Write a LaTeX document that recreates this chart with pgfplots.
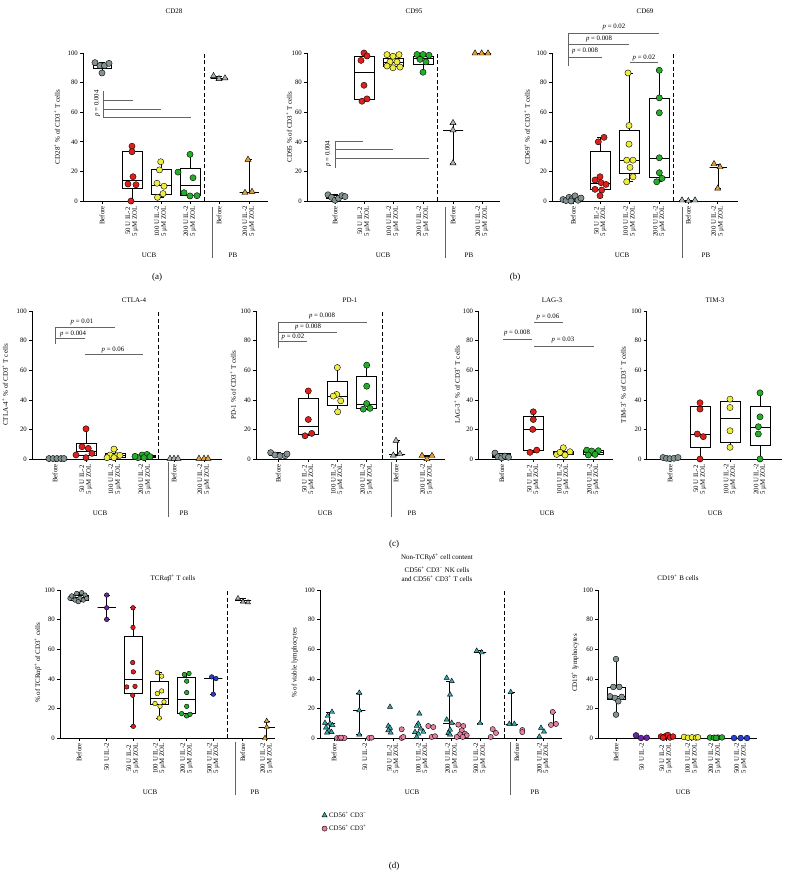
\documentclass[border=0pt]{standalone}
\usepackage{fontspec}
\setmainfont{Liberation Serif}
\usepackage{pgfplots}
\pgfplotsset{compat=1.18}
\usepgfplotslibrary{statistics}
\definecolor{cgray}{RGB}{132,146,146}
\definecolor{cgrayt}{RGB}{170,182,182}
\definecolor{cred}{RGB}{222,32,28}
\definecolor{cyel}{RGB}{240,238,60}
\definecolor{cgreen}{RGB}{38,172,42}
\definecolor{corange}{RGB}{228,160,52}
\definecolor{cpurple}{RGB}{108,36,170}
\definecolor{cblue}{RGB}{40,64,210}
\definecolor{cteal}{RGB}{56,168,170}
\definecolor{cpink}{RGB}{230,128,160}
\definecolor{pline}{RGB}{100,100,100}
\newcommand{\tk}{\fontsize{6.8}{6.6}\selectfont}
\newcommand{\lb}{\fontsize{7}{8}\selectfont}
\newcommand{\lz}[1]{#1 U IL-2\\5 µM ZOL}
\newcommand{\pv}[1]{\textit{p} = #1}
\newcommand{\pl}{\textsuperscript{+}}
\newcommand{\mn}{\textsuperscript{−}}
\def\msz{3.1pt}\def\tsz{3.5pt}
\newcommand{\bx}[7]{\addplot[black, line width=0.7pt, forget plot, boxplot/draw direction=y, boxplot prepared={draw position=#1, lower whisker=#2, lower quartile=#3, median=#4, upper quartile=#5, upper whisker=#6, box extend=#7, whisker extend=6}] coordinates {};}
\tikzset{
  pbr/.style={pline, line width=0.9pt},
  pt/.style={font=\tk},
  dsh/.style={line width=0.7pt, dash pattern=on 4pt off 2.5pt},
}
\pgfplotsset{
  dot/.style={only marks, mark=*, mark size=\msz, mark options={solid, draw=black, fill=#1, line width=0.4pt}},
  tri/.style={only marks, mark=triangle*, mark size=\tsz, mark options={solid, draw=black, fill=#1, line width=0.4pt}},
  panel/.style={scale only axis, anchor=south west, height=148pt, axis lines*=left,
    axis line style={line width=0.7pt, -}, ymin=0, ymax=100, ytick={0,20,40,60,80,100},
    tick align=outside, major tick length=3pt, tick style={black, line width=0.6pt}, clip=false,
    xticklabel style={rotate=90, anchor=east, align=center, font=\tk, inner sep=2pt},
    yticklabel style={font=\tk, inner sep=2pt}, /pgf/number format/assume math mode=true},
}
\begin{document}
\begin{tikzpicture}
\path[use as bounding box] (0pt,0pt) rectangle (788pt,-874pt);
%================ (a) CD28
\begin{axis}[panel, at={(83pt,-201pt)}, width=185pt, xmin=83, xmax=268,
  xtick={102,132,161,190,219,249}, xticklabels={Before,{\lz{50}},{\lz{100}},{\lz{200}},Before,{\lz{200}}}]
\draw[dsh] (axis cs:204,0) -- (axis cs:204,100);
\bx{102}{86.5}{89.5}{91.5}{93}{93.5}{18}
\bx{132}{0}{8.3}{14.2}{33.7}{37}{20}
\bx{161}{2.5}{4.7}{10.8}{21.6}{26.5}{20}
\bx{190}{3.4}{4}{10.8}{21.8}{31.5}{20}
\bx{219}{82.5}{83}{83}{83}{84.5}{17}
\bx{249}{5.6}{6}{6}{6}{28}{19}
\addplot[dot=cgray] coordinates {(95,93.5)(100,91.5)(104.5,91.5)(109,93)(102,86.5)};
\addplot[dot=cred] coordinates {(132,37)(132,33.3)(133,16.4)(128,11.5)(136,11)(131,0)};
\addplot[dot=cyel] coordinates {(160.7,26.5)(159.5,21)(157,12)(164,10)(163,5)(157.5,2.5)};
\addplot[dot=cgreen] coordinates {(190,31.5)(178,19.5)(193,15.7)(184,5.6)(190,3.4)(197,3.6)};
\addplot[tri=cgrayt] coordinates {(213.5,84.5)(219,82.5)(225,83)};
\addplot[tri=corange] coordinates {(248,28)(245,5.6)(252,6.3)};
\draw[pbr] (axis cs:103,74) -- (axis cs:103,56.2);
\draw[pbr] (axis cs:103,67.6) -- (axis cs:133,67.6);
\draw[pbr] (axis cs:103,62) -- (axis cs:161,62);
\draw[pbr] (axis cs:103,56.2) -- (axis cs:191,56.2);
\node[pt, rotate=90] at (axis cs:97,66) {\pv{0.004}};
\end{axis}
%================ (b) CD95
\begin{axis}[panel, at={(307pt,-201pt)}, width=193pt, xmin=307, xmax=500,
  xtick={335,364,393,423,453,482}, xticklabels={Before,{\lz{50}},{\lz{100}},{\lz{200}},Before,{\lz{200}}}]
\draw[dsh] (axis cs:437.7,0) -- (axis cs:437.7,100);
\bx{335}{0.5}{1.5}{2.5}{3.5}{4.7}{18}
\bx{364}{67.4}{69}{87}{97.5}{100}{20}
\bx{393}{90}{91}{94}{96.5}{98.9}{20}
\bx{423}{87}{92.5}{96.3}{98}{99}{20}
\bx{453}{25.6}{47.9}{47.9}{47.9}{52.8}{20}
\bx{482}{99.6}{99.8}{99.8}{99.8}{100}{18}
\addplot[dot=cgray] coordinates {(328,4.2)(331.5,2.5)(335,0.5)(338.5,1.8)(342,3.6)(345,3)};
\addplot[dot=cred] coordinates {(364,100)(367,98)(361,95)(364,78.2)(362,67.4)(367,69)};
\addplot[dot=cyel] coordinates {(387,98.9)(393,97.8)(399,98.9)(390,94)(397,94)(387,91.2)(393,90)(400,90.5)};
\addplot[dot=cgreen] coordinates {(417,99)(423,99)(429,98.5)(420,95.7)(426,94)(423,87)};
\addplot[tri=cgrayt] coordinates {(453,52.8)(453,47.9)(453,25.6)};
\addplot[tri=corange] coordinates {(475,99.8)(481.7,99.8)(488,99.8)};
\draw[pbr] (axis cs:335,40.4) -- (axis cs:335,22.5);
\draw[pbr] (axis cs:335,40.4) -- (axis cs:363,40.4);
\draw[pbr] (axis cs:335,34.8) -- (axis cs:393,34.8);
\draw[pbr] (axis cs:335,28.8) -- (axis cs:429,28.8);
\node[pt, rotate=90] at (axis cs:328,32) {\pv{0.004}};
\end{axis}
%================ (b) CD69
\begin{axis}[panel, at={(552pt,-201pt)}, width=186pt, xmin=552, xmax=738,
  xtick={573.3,600.3,629.7,659.3,688.3,717.7}, xticklabels={Before,{\lz{50}},{\lz{100}},{\lz{200}},Before,{\lz{200}}}]
\draw[dsh] (axis cs:673.3,0) -- (axis cs:673.3,100);
\bx{573.3}{0}{0.5}{1.2}{2.2}{3.5}{18}
\bx{600.3}{3.6}{7.9}{11.9}{33.3}{43}{20}
\bx{629.7}{13}{18.7}{27.6}{47.4}{86.5}{20}
\bx{659.3}{13}{15.7}{28.8}{69.2}{88.3}{20}
\bx{688.3}{0.3}{0.3}{0.3}{0.3}{0.3}{18}
\bx{718}{8.5}{23}{23}{23}{25}{17}
\addplot[dot=cgray] coordinates {(563,1)(566,0.3)(569,2.5)(572,1.5)(575,3.5)(578,0.5)(581,2)(571,0)};
\addplot[dot=cred] coordinates {(598.3,40)(604,43)(600,16.4)(601,12.4)(595,14.2)(606,11.2)(595,7.9)(601.7,7.4)(600,3.6)};
\addplot[dot=cyel] coordinates {(628,86.5)(629,51)(629,38.4)(626.7,27.6)(633,27.6)(630,22.7)(633,16.4)(626.7,13)};
\addplot[dot=cgreen] coordinates {(659.3,88.3)(659.3,69.7)(659.3,59.6)(659.3,29.2)(659.3,19.1)(662,15.3)(656.7,13)};
\addplot[tri=cgrayt] coordinates {(682,0.5)(688.3,0)(695,0.5)};
\addplot[tri=corange] coordinates {(714,25)(720,23)(717.7,8.5)};
\draw[pbr] (axis cs:568,113.5) -- (axis cs:568,91.2);
\draw[pbr] (axis cs:568,97.3) -- (axis cs:602,97.3);
\draw[pbr] (axis cs:568,105.8) -- (axis cs:629,105.8);
\draw[pbr] (axis cs:568,113.5) -- (axis cs:659,113.5);
\draw[pbr] (axis cs:630,93.3) -- (axis cs:658,93.3);
\node[pt] at (axis cs:585,101.3) {\pv{0.008}};
\node[pt] at (axis cs:599,109.7) {\pv{0.008}};
\node[pt] at (axis cs:614,117.5) {\pv{0.02}};
\node[pt] at (axis cs:644,96.9) {\pv{0.02}};
\end{axis}
%================ (c) CTLA-4
\begin{axis}[panel, at={(32pt,-459pt)}, width=190pt, xmin=32, xmax=222,
  xtick={55,86,115,145,174,204}, xticklabels={Before,{\lz{50}},{\lz{100}},{\lz{200}},Before,{\lz{200}}}]
\draw[dsh] (axis cs:158.3,0) -- (axis cs:158.3,100);
\bx{86}{0.9}{2.2}{4.9}{10.8}{20.4}{20}
\bx{115}{0.9}{1.2}{2.5}{3.8}{6.7}{20}
\bx{145}{0.9}{1}{1.7}{2.5}{3.1}{20}
\addplot[dot=cgray] coordinates {(49,0.3)(53,0.3)(57,0.3)(61,0.3)(64,0.3)};
\addplot[dot=cred] coordinates {(86,20.4)(82,8.3)(88.3,7.2)(76,2.7)(86,0.9)(92,3.8)};
\addplot[dot=cyel] coordinates {(114,6.7)(110,2.7)(117,2.2)(107,0.9)(114,0.9)(120,2.5)};
\addplot[dot=cgreen] coordinates {(142,2.7)(147,3.1)(138,0.9)(144,0.9)(150,1.6)(135,1.8)};
\addplot[tri=cgrayt] coordinates {(170,0.3)(174,0.3)(178,0.3)};
\addplot[tri=corange] coordinates {(199,0.3)(204,0.3)(208,0.3)};
\draw[pbr] (axis cs:55,88.8) -- (axis cs:55,77.9);
\draw[pbr] (axis cs:55,88.8) -- (axis cs:115,88.8);
\draw[pbr] (axis cs:55,81.3) -- (axis cs:85,81.3);
\draw[pbr] (axis cs:85,70.6) -- (axis cs:143,70.6);
\node[pt] at (axis cs:82,92.3) {\pv{0.01}};
\node[pt] at (axis cs:73,84.8) {\pv{0.004}};
\node[pt] at (axis cs:113,74) {\pv{0.06}};
\end{axis}
%================ (c) PD-1
\begin{axis}[panel, at={(256pt,-459pt)}, width=189pt, xmin=256, xmax=445,
  xtick={278.3,308.3,337.3,366.7,396,426.7}, xticklabels={Before,{\lz{50}},{\lz{100}},{\lz{200}},Before,{\lz{200}}}]
\draw[dsh] (axis cs:382.3,0) -- (axis cs:382.3,100);
\bx{278.3}{1.8}{2.2}{2.7}{3.8}{4.3}{18}
\bx{308.3}{15.7}{16.9}{22.2}{40.9}{46}{20}
\bx{337.3}{31.9}{36.4}{42.5}{52.4}{61.8}{20}
\bx{366.7}{33.7}{34.2}{36.6}{56}{63.4}{20}
\bx{397}{2.5}{3.4}{3.4}{3.4}{12.4}{16}
\bx{427}{0}{1.5}{1.5}{1.5}{2.2}{14}
\addplot[dot=cgray] coordinates {(270.7,4.3)(275,2.7)(280,2.2)(285,2.2)(287,3.4)};
\addplot[dot=cred] coordinates {(308.3,46)(308.3,26.7)(305,15.7)(311.7,17.3)};
\addplot[dot=cyel] coordinates {(337.3,61.8)(336.7,43.6)(333.3,42.5)(340.7,39.3)(337.7,31.9)};
\addplot[dot=cgreen] coordinates {(366.7,63.4)(366.7,49.2)(366.7,37.5)(363.3,33.7)(370,34.2)};
\addplot[tri=cgrayt] coordinates {(396,12.4)(393.3,2.5)(400,3.4)};
\addplot[tri=corange] coordinates {(422,2.2)(427,0)(432,2.2)};
\draw[pbr] (axis cs:278.3,92.6) -- (axis cs:278.3,75);
\draw[pbr] (axis cs:278.3,79.1) -- (axis cs:307,79.1);
\draw[pbr] (axis cs:278.3,85.8) -- (axis cs:337,85.8);
\draw[pbr] (axis cs:278.3,92.6) -- (axis cs:367,92.6);
\node[pt] at (axis cs:293,82.5) {\pv{0.02}};
\node[pt] at (axis cs:308,89.5) {\pv{0.008}};
\node[pt] at (axis cs:322,96.5) {\pv{0.008}};
\end{axis}
%================ (c) LAG-3
\begin{axis}[panel, at={(478.3pt,-459pt)}, width=135pt, xmin=478.3, xmax=613.3,
  xtick={501.7,533.3,563.3,593.3}, xticklabels={Before,{\lz{50}},{\lz{100}},{\lz{200}}}]
\bx{501.7}{1}{1.2}{1.8}{3.5}{4}{18}
\bx{533.3}{4.5}{5.6}{20}{28.5}{31.9}{20}
\bx{563.3}{2.7}{3}{4.5}{5.5}{7.6}{20}
\bx{593.3}{2.7}{3.2}{4.2}{5.6}{6}{20}
\addplot[dot=cgray] coordinates {(495,4)(498,1.5)(501.7,0.8)(505,2)(508.5,1.2)};
\addplot[dot=cred] coordinates {(533.3,31.9)(533.3,26.7)(532.7,20)(530,4.5)(536.7,6)};
\addplot[dot=cyel] coordinates {(563.3,7.6)(570,4.9)(556.7,3.1)(565,2.7)(560,4.5)};
\addplot[dot=cgreen] coordinates {(586.7,6)(591.7,5.4)(598.3,5.6)(595,3.1)(588.3,2.7)};
\draw[pbr] (axis cs:503,80.9) -- (axis cs:532,80.9);
\draw[pbr] (axis cs:534,92.1) -- (axis cs:563,92.1);
\draw[pbr] (axis cs:534,76.2) -- (axis cs:594,76.2);
\node[pt] at (axis cs:517,85.2) {\pv{0.008}};
\node[pt] at (axis cs:548,95.8) {\pv{0.06}};
\node[pt] at (axis cs:563,80.2) {\pv{0.03}};
\end{axis}
%================ (c) TIM-3
\begin{axis}[panel, at={(646.7pt,-459pt)}, width=135pt, xmin=646.7, xmax=781.7,
  xtick={670,700,730,760}, xticklabels={Before,{\lz{50}},{\lz{100}},{\lz{200}}}]
\bx{700}{0}{7.9}{16.9}{35.3}{38}{20}
\bx{730}{7.9}{11}{27.4}{39.1}{40.4}{20}
\bx{760}{0}{9}{21.3}{35.7}{44.7}{20}
\addplot[dot=cgray] coordinates {(663,1)(666.5,0.5)(670,0.2)(674,0.5)(678,1)};
\addplot[dot=cred] coordinates {(700,38)(700,33.7)(697.3,16.9)(703.3,15.1)(700,0)};
\addplot[dot=cyel] coordinates {(730,40.4)(730,34.8)(730,19.1)(730,7.9)};
\addplot[dot=cgreen] coordinates {(760,44.7)(760,28.5)(758.3,21.8)(758.3,16.9)(760,0)};
\end{axis}
%================ (d) TCRab
\def\msz{2.3pt}\def\tsz{2.9pt}
\begin{axis}[panel, at={(60pt,-738pt)}, width=215pt, xmin=60, xmax=275,
  xtick={79,106.7,133,159.3,186.7,213.3,242.7,266.7},
  xticklabels={Before,{50 U IL-2},{\lz{50}},{\lz{100}},{\lz{200}},{\lz{500}},Before,{\lz{200}}}]
\draw[dsh] (axis cs:227.3,0) -- (axis cs:227.3,100);
\bx{79}{92.1}{93.2}{95}{96.5}{98.2}{18}
\bx{106.7}{80.1}{88}{88}{88}{96.6}{18}
\bx{133}{7.9}{30}{39.7}{68.4}{88}{18}
\bx{159.3}{13.5}{22.8}{27.1}{38.6}{44.2}{18}
\bx{186.7}{14.9}{16.5}{26}{41.3}{43.6}{18}
\bx{213.3}{29.6}{40}{40}{40}{41.3}{18}
\bx{243}{91.6}{93}{93}{93}{94.4}{16}
\bx{266.7}{0}{7.4}{7.4}{7.4}{11.5}{16}
\addplot[dot=cgray] coordinates {(73,95.5)(76.7,97.7)(81.7,98.2)(85,96.6)(70,94.4)(80,94.4)(75,93.2)(83.3,93.2)(78.3,92.1)(86.7,94.4)(71.7,96)};
\addplot[dot=cpurple] coordinates {(106.7,96.6)(106.7,88)(106.7,80.1)};
\addplot[dot=cred] coordinates {(133,88)(133,74.7)(132.7,51)(133.3,44.7)(126.7,34.5)(135,34.9)(132.7,28.9)(133.3,7.9)};
\addplot[dot=cyel] coordinates {(157.3,44.2)(161.7,41.8)(161.7,31.8)(157.3,30)(155,23.3)(160,21.4)(164,24.4)(159.3,13.5)};
\addplot[dot=cgreen] coordinates {(184.3,42.9)(189,43.6)(186.7,38.4)(186.7,30.7)(186.7,21.4)(181.7,16.5)(186.7,14.9)(190,16)};
\addplot[dot=cblue] coordinates {(211.7,41.3)(216,40.2)(213.3,29.6)};
\addplot[tri=cgrayt] coordinates {(238,94.4)(243,92.1)(248,91.6)};
\addplot[tri=corange] coordinates {(266.7,11.5)(266.7,7.4)(265,0)};
\end{axis}
%================ (d) NK
\def\msz{2.6pt}\def\tsz{3pt}
\begin{axis}[panel, at={(320pt,-738pt)}, width=242pt, xmin=320, xmax=562,
  xtick={334,365,393.3,422.3,451.7,480,516.7,543.3},
  xticklabels={Before,{50 U IL-2},{\lz{50}},{\lz{100}},{\lz{200}},{\lz{500}},Before,{\lz{200}}},
  legend style={draw=none, fill=none, at={(-0.005,-0.47)}, anchor=north west, font=\tk, row sep=2pt},
  legend cell align=left]
\draw[dsh] (axis cs:504,0) -- (axis cs:504,100);
\bx{329}{3.6}{9.7}{9.7}{9.7}{17.6}{12}
\bx{359.3}{2.3}{18.7}{18.7}{18.7}{30.5}{12}
\bx{449}{2.3}{10.2}{10.2}{10.2}{38.4}{12}
\bx{480}{10}{57.8}{57.8}{57.8}{58.9}{12}
\bx{511.5}{9.5}{9.5}{9.5}{9.5}{31}{12}
\bx{553}{8.8}{9.5}{9.5}{9.5}{17.6}{10}
\addplot[tri=cteal] coordinates {(332,17.6)(327.7,14.9)(325,10.2)(330,9.7)(332.5,8.6)(326,7)(329,5)(331.5,4)(327,3.6)};
\addlegendentry{CD56\pl\ CD3\mn}
\addplot[dot=cpink] coordinates {(337,0)(339.5,0)(342,0)(344.5,0)(341,0.3)};
\addlegendentry{CD56\pl\ CD3\pl}
\addplot[tri=cteal] coordinates {(359.3,30.5)(359.3,18.7)(359.3,2.3)};
\addplot[dot=cpink] coordinates {(369,0)(371.5,0.2)};
\addplot[tri=cteal] coordinates {(390,21)(388.3,8.1)(390,6.8)(388.3,5.2)(390.7,3.6)};
\addplot[dot=cpink] coordinates {(401.7,5.9)(401.7,0)(403.3,0.7)};
\addplot[tri=cteal] coordinates {(419.3,16.5)(418.3,9.7)(416.7,8.1)(420.7,6.3)(415,4)(423.3,4.2)(418.3,2.9)(416.7,0.7)};
\addplot[dot=cpink] coordinates {(428.3,8.1)(433.3,7.4)(431.7,0.7)(435,1.2)};
\addplot[tri=cteal] coordinates {(446.7,40.6)(451.7,38.4)(450,29.3)(446.7,12.4)(451.7,10.2)(450,5.6)(448.3,3.4)(450,2.3)};
\addplot[dot=cpink] coordinates {(458.3,9)(463.3,8.1)(461.7,5.2)(465,2.9)(466.7,1.8)(460,2.5)(456.7,0.7)(462.7,0.7)};
\addplot[tri=cteal] coordinates {(476.7,58.9)(481.7,57.8)(480,10)};
\addplot[dot=cpink] coordinates {(492.7,6)(496,3.4)(490.7,0.7)};
\addplot[tri=cteal] coordinates {(510.7,31)(509.3,9.5)(514.3,9.5)};
\addplot[dot=cpink] coordinates {(522.3,5.4)(522.3,4)};
\addplot[tri=cteal] coordinates {(541,6.8)(544,4.3)(539.3,0.9)};
\addplot[dot=cpink] coordinates {(552.7,17.6)(551,8.8)(556,9.5)};
\end{axis}
%================ (d) CD19
\def\msz{2.9pt}
\begin{axis}[panel, at={(598.3pt,-738pt)}, width=158.7pt, xmin=598.3, xmax=757,
  xtick={616,641.7,666,691.7,715,740.7},
  xticklabels={Before,{50 U IL-2},{\lz{50}},{\lz{100}},{\lz{200}},{\lz{500}}}]
\bx{616}{15.8}{26.2}{28.4}{34.5}{53.3}{18}
\addplot[dot=cgray] coordinates {(616,53.3)(613.3,34.5)(619.3,34.5)(610,28.2)(621.7,27.8)(615,27.1)(618.3,24.8)(616,15.8)};
\addplot[dot=cpurple] coordinates {(636,1.8)(641,0)(646.7,0.2)};
\addplot[dot=cred] coordinates {(661,1)(664,0.5)(666,1.5)(668,2)(670,0.3)(673,1)(663,0.2)};
\addplot[dot=cyel] coordinates {(684,0.7)(688,0.2)(692,0.5)(696,0.3)(698,0.5)};
\addplot[dot=cgreen] coordinates {(710,0.3)(714,0.2)(718,0.3)(722,0.4)(716,0.1)};
\addplot[dot=cblue] coordinates {(734,0)(740.7,0)(747,0)};
\end{axis}
%================ titles, y labels, group labels
\begin{scope}[every node/.style={font=\lb}]
\node at (174pt,-11pt) {CD28};
\node at (414pt,-11pt) {CD95};
\node at (645pt,-11pt) {CD69};
\node at (134pt,-300pt) {CTLA-4};
\node at (350pt,-300pt) {PD-1};
\node at (552pt,-300pt) {LAG-3};
\node at (715pt,-300pt) {TIM-3};
\node at (173pt,-578pt) {TCR\textit{αβ}\pl\ T cells};
\node at (437pt,-557pt) {Non-TCR\textit{γδ}\pl\ cell content};
\node at (437pt,-570pt) {CD56\pl\ CD3\mn\ NK cells};
\node at (437pt,-578.5pt) {and CD56\pl\ CD3\pl\ T cells};
\node at (678pt,-578pt) {CD19\pl\ B cells};
\node[rotate=90] at (57pt,-127pt) {CD28\pl\ \% of CD3\pl\ T cells};
\node[rotate=90] at (289pt,-127pt) {CD95 \% of CD3\pl\ T cells};
\node[rotate=90] at (527pt,-127pt) {CD69\pl\ \% of CD3\pl\ T cells};
\node[rotate=90] at (5pt,-385pt) {CTLA-4\pl\ \% of CD3\pl\ T cells};
\node[rotate=90] at (233pt,-385pt) {PD-1 \% of CD3\pl\ T cells};
\node[rotate=90] at (457pt,-385pt) {LAG-3\pl\ \% of CD3\pl\ T cells};
\node[rotate=90] at (623pt,-385pt) {TIM-3\pl\ \% of CD3\pl\ T cells};
\node[rotate=90] at (38pt,-663pt) {\% of TCR\textit{αβ}\pl\ of CD3\pl\ cells};
\node[rotate=90] at (295pt,-663pt) {\% of viable lymphocytes};
\node[rotate=90] at (575pt,-663pt) {CD19\pl\ lymphocytes};
% group labels
\node at (149pt,-255pt) {UCB}; \node at (233pt,-255pt) {PB};
\node at (383pt,-255pt) {UCB}; \node at (469pt,-255pt) {PB};
\node at (622pt,-255pt) {UCB}; \node at (706pt,-255pt) {PB};
\node at (100pt,-513pt) {UCB}; \node at (184pt,-513pt) {PB};
\node at (325pt,-513pt) {UCB}; \node at (412pt,-513pt) {PB};
\node at (547pt,-513pt) {UCB};
\node at (715pt,-513pt) {UCB};
\node at (150pt,-792pt) {UCB}; \node at (255pt,-792pt) {PB};
\node at (412pt,-792pt) {UCB}; \node at (535pt,-792pt) {PB};
\node at (683pt,-792pt) {UCB};
\end{scope}
\begin{scope}[line width=0.8pt, pline]
\draw (212pt,-207pt) -- (212pt,-258pt);
\draw (445.7pt,-207pt) -- (445.7pt,-258pt);
\draw (682.3pt,-207pt) -- (682.3pt,-258pt);
\draw (168.3pt,-462pt) -- (168.3pt,-517pt);
\draw (391.7pt,-462pt) -- (391.7pt,-517pt);
\draw (235pt,-742pt) -- (235pt,-795pt);
\draw (510.7pt,-742pt) -- (510.7pt,-795pt);
\end{scope}
\node[font=\fontsize{9}{10}\selectfont] at (157pt,-277pt) {(a)};
\node[font=\fontsize{9}{10}\selectfont] at (515pt,-277pt) {(b)};
\node[font=\fontsize{9}{10}\selectfont] at (394pt,-544pt) {(c)};
\node[font=\fontsize{9}{10}\selectfont] at (394pt,-866pt) {(d)};
\end{tikzpicture}
\end{document}
